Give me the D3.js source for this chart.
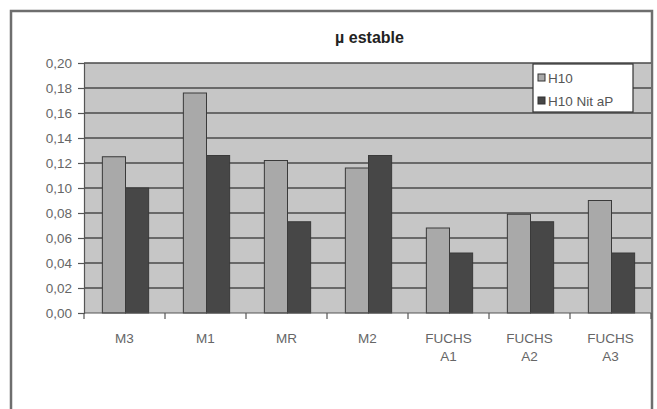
<!DOCTYPE html>
<html>
<head>
<meta charset="utf-8">
<script src="https://cdn.jsdelivr.net/npm/d3@7"></script>
<style>
  body { margin: 0; background: #fff; }
  svg { display: block; font-family: Arial, "Liberation Sans", sans-serif; }
</style>
</head>
<body>
<svg id="chart" width="657" height="409"></svg>
<script>
// values
var categories = [["M3"], ["M1"], ["MR"], ["M2"], ["FUCHS", "A1"], ["FUCHS", "A2"], ["FUCHS", "A3"]];
var seriesNames = ["H10", "H10 Nit aP"];
var h10 = [0.125, 0.176, 0.122, 0.116, 0.068, 0.079, 0.090];
var h10Nit = [0.100, 0.126, 0.073, 0.126, 0.048, 0.073, 0.048];
var yTicks = [0, 0.02, 0.04, 0.06, 0.08, 0.10, 0.12, 0.14, 0.16, 0.18, 0.20];

var colors = ["#a9a9a9", "#474747"];
const margin = {top: 63, right: 6, bottom: 96, left: 84};
var W = 657, H = 409;
var width = W - margin.left - margin.right;
var height = H - margin.top - margin.bottom;

var svg = d3.select("#chart");

// chart area frame
svg.append("rect")
    .attr("x", 11).attr("y", 11)
    .attr("width", 641).attr("height", 420)
    .attr("fill", "#fff")
    .attr("stroke", "#6e6e6e")
    .attr("stroke-width", 2.5);

svg.append("text")
    .attr("x", margin.left + width / 2 + 2)
    .attr("y", 43)
    .attr("text-anchor", "middle")
    .attr("font-size", 16)
    .attr("font-weight", "bold")
    .attr("fill", "#222")
    .text("µ estable");

var g = svg.append("g").attr("transform", "translate(" + margin.left + "," + margin.top + ")");

var x = d3.scaleBand()
    .domain(d3.range(categories.length))
    .range([0, width])
    .paddingInner(0)
    .paddingOuter(0);

var xs = d3.scaleBand()
    .domain([0, 1])
    .range([0, x.bandwidth()])
    .paddingInner(0)
    .paddingOuter(0.75);

var y = d3.scaleLinear()
    .domain([0, 0.2])
    .range([height, 0]);

g.append("rect")
    .attr("width", width)
    .attr("height", height)
    .attr("fill", "#c6c6c6");

// gridlines
g.selectAll("line.grid")
    .data(yTicks.slice(1))
    .enter()
    .append("line")
    .attr("class", "grid")
    .attr("x1", 0).attr("x2", width)
    .attr("y1", d => y(d)).attr("y2", d => y(d))
    .attr("stroke", "#4a4a4a")
    .attr("stroke-width", 1.6);

var series = [h10, h10Nit];
series.forEach(function(vals, s){
    g.selectAll("rect.s" + s)
        .data(vals)
        .enter()
        .append("rect")
        .attr("class", "s" + s)
        .attr("x", (d, i) => x(i) + xs(s) + 1)
        .attr("y", d => y(d))
        .attr("width", xs.bandwidth())
        .attr("height", d => height - y(d))
        .attr("fill", colors[s])
        .attr("stroke", "#3a3a3a")
        .attr("stroke-width", 1);
});

// y axis
var yAxis = d3.axisLeft(y)
    .tickValues(yTicks)
    .tickSize(6)
    .tickPadding(6)
    .tickFormat(d => d3.format(".2f")(d).replace(".", ","));

var ya = g.append("g").call(yAxis);
ya.select(".domain").attr("stroke", "#555").attr("stroke-width", 1.2);
ya.selectAll(".tick line").attr("stroke", "#555").attr("stroke-width", 1.2);
ya.selectAll(".tick text").attr("font-size", 13.5).attr("fill", "#666")
    .attr("font-family", "Arial, 'Liberation Sans', sans-serif");

// x axis
var xa = g.append("g").attr("transform", "translate(0," + height + ")");
xa.append("line").attr("x1", 0).attr("x2", width)
    .attr("stroke", "#555").attr("stroke-width", 1.2);
xa.selectAll("line.tk")
    .data(d3.range(categories.length + 1))
    .enter()
    .append("line")
    .attr("class", "tk")
    .attr("x1", d => d * x.step()).attr("x2", d => d * x.step())
    .attr("y1", 0).attr("y2", 6)
    .attr("stroke", "#555").attr("stroke-width", 1.2);

var labels = xa.selectAll("text.lab")
    .data(categories)
    .enter()
    .append("text")
    .attr("class", "lab")
    .attr("x", (d, i) => x(i) + x.bandwidth() / 2)
    .attr("y", 30)
    .attr("text-anchor", "middle")
    .attr("font-size", 13.5)
    .attr("fill", "#666");
labels.selectAll("tspan")
    .data(d => d)
    .enter()
    .append("tspan")
    .attr("x", function(){ return d3.select(this.parentNode).attr("x"); })
    .attr("dy", (d, i) => i == 0 ? 0 : 18)
    .text(d => d);

// legend
var lg = svg.append("g").attr("transform", "translate(533,64)");
lg.append("rect")
    .attr("width", 100).attr("height", 48)
    .attr("fill", "#fff")
    .attr("stroke", "#333")
    .attr("stroke-width", 1.2);
seriesNames.forEach(function(name, i){
    var row = lg.append("g").attr("transform", "translate(5," + (14 + i * 23) + ")");
    row.append("rect")
        .attr("x", 0).attr("y", -4)
        .attr("width", 7).attr("height", 7)
        .attr("fill", colors[i])
        .attr("stroke", "#333");
    row.append("text")
        .attr("x", 10).attr("y", 5)
        .attr("font-size", 13.5)
        .attr("fill", "#555")
        .text(name);
});
</script>
</body>
</html>
